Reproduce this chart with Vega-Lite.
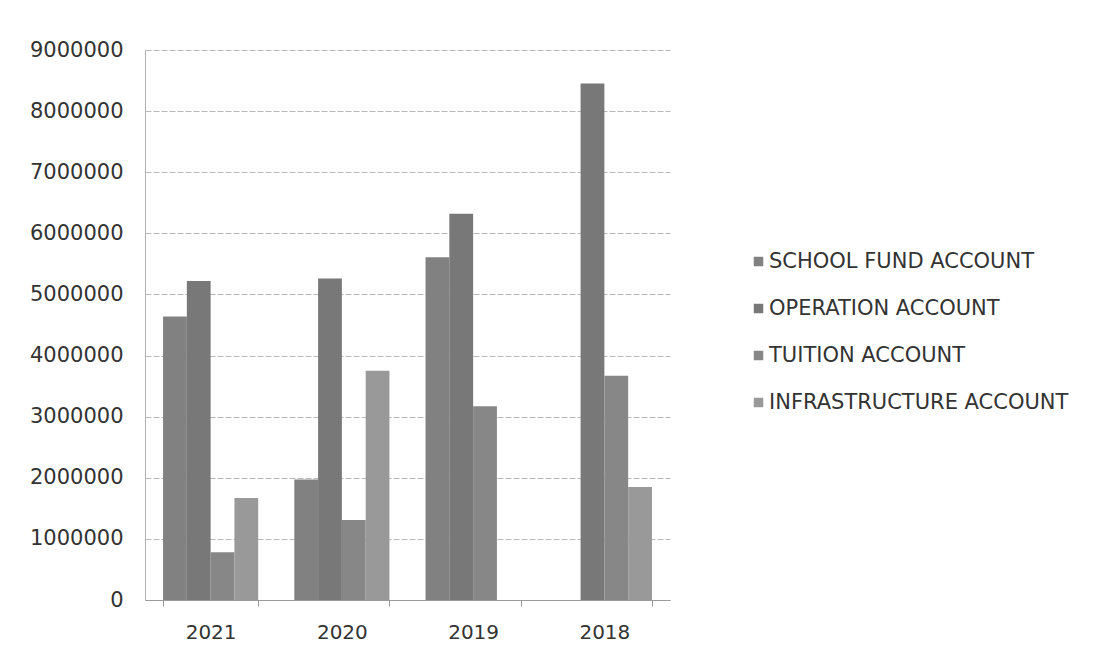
{
  "$schema": "https://vega.github.io/schema/vega-lite/v6.json",
  "width": 525,
  "height": 550,
  "autosize": {"type": "none"},
  "padding": {"left": 145, "top": 50, "right": 432, "bottom": 58},
  "background": "white",
  "data": {
    "values": [
      {"year": "2021", "account": "SCHOOL FUND ACCOUNT", "amount": 4640000},
      {"year": "2021", "account": "OPERATION ACCOUNT", "amount": 5220000},
      {"year": "2021", "account": "TUITION ACCOUNT", "amount": 780000},
      {"year": "2021", "account": "INFRASTRUCTURE ACCOUNT", "amount": 1670000},
      {"year": "2020", "account": "SCHOOL FUND ACCOUNT", "amount": 1970000},
      {"year": "2020", "account": "OPERATION ACCOUNT", "amount": 5260000},
      {"year": "2020", "account": "TUITION ACCOUNT", "amount": 1310000},
      {"year": "2020", "account": "INFRASTRUCTURE ACCOUNT", "amount": 3750000},
      {"year": "2019", "account": "SCHOOL FUND ACCOUNT", "amount": 5610000},
      {"year": "2019", "account": "OPERATION ACCOUNT", "amount": 6320000},
      {"year": "2019", "account": "TUITION ACCOUNT", "amount": 3170000},
      {"year": "2019", "account": "INFRASTRUCTURE ACCOUNT", "amount": 0},
      {"year": "2018", "account": "SCHOOL FUND ACCOUNT", "amount": 0},
      {"year": "2018", "account": "OPERATION ACCOUNT", "amount": 8450000},
      {"year": "2018", "account": "TUITION ACCOUNT", "amount": 3670000},
      {"year": "2018", "account": "INFRASTRUCTURE ACCOUNT", "amount": 1850000}
    ]
  },
  "mark": {"type": "bar"},
  "encoding": {
    "x": {
      "field": "year",
      "type": "nominal",
      "sort": ["2021", "2020", "2019", "2018"],
      "scale": {"paddingInner": 0.275, "paddingOuter": 0.1375},
      "axis": {
        "title": null,
        "labelAngle": 0,
        "labelFont": "DejaVu Sans",
        "labelFontSize": 20,
        "labelColor": "#333333",
        "labelPadding": 16,
        "tickBand": "extent",
        "tickColor": "#9a9a9a",
        "tickSize": 6,
        "domainColor": "#9a9a9a",
        "grid": false
      }
    },
    "xOffset": {
      "field": "account",
      "type": "nominal",
      "sort": ["SCHOOL FUND ACCOUNT", "OPERATION ACCOUNT", "TUITION ACCOUNT", "INFRASTRUCTURE ACCOUNT"],
      "scale": {"paddingInner": 0, "paddingOuter": 0}
    },
    "y": {
      "field": "amount",
      "type": "quantitative",
      "scale": {"domain": [0, 9000000], "nice": false},
      "axis": {
        "title": null,
        "values": [0, 1000000, 2000000, 3000000, 4000000, 5000000, 6000000, 7000000, 8000000, 9000000],
        "format": "d",
        "labelFont": "DejaVu Sans",
        "labelFontSize": 21,
        "labelColor": "#333333",
        "labelPadding": 22,
        "ticks": false,
        "domainColor": "#b0b0b0",
        "gridColor": "#b8b8b8",
        "gridDash": [6, 2]
      }
    },
    "color": {
      "field": "account",
      "type": "nominal",
      "sort": ["SCHOOL FUND ACCOUNT", "OPERATION ACCOUNT", "TUITION ACCOUNT", "INFRASTRUCTURE ACCOUNT"],
      "scale": {"range": ["#818181", "#787878", "#878787", "#999999"]},
      "legend": {
        "title": null,
        "orient": "none",
        "legendX": 603,
        "legendY": 201,
        "symbolType": "square",
        "symbolSize": 90,
        "symbolStrokeWidth": 0,
        "labelFont": "DejaVu Sans",
        "labelFontSize": 21,
        "labelLimit": 400,
        "labelColor": "#333333",
        "rowPadding": 25,
        "symbolOffset": 0,
        "labelOffset": 0
      }
    }
  },
  "config": {"view": {"stroke": null}}
}
